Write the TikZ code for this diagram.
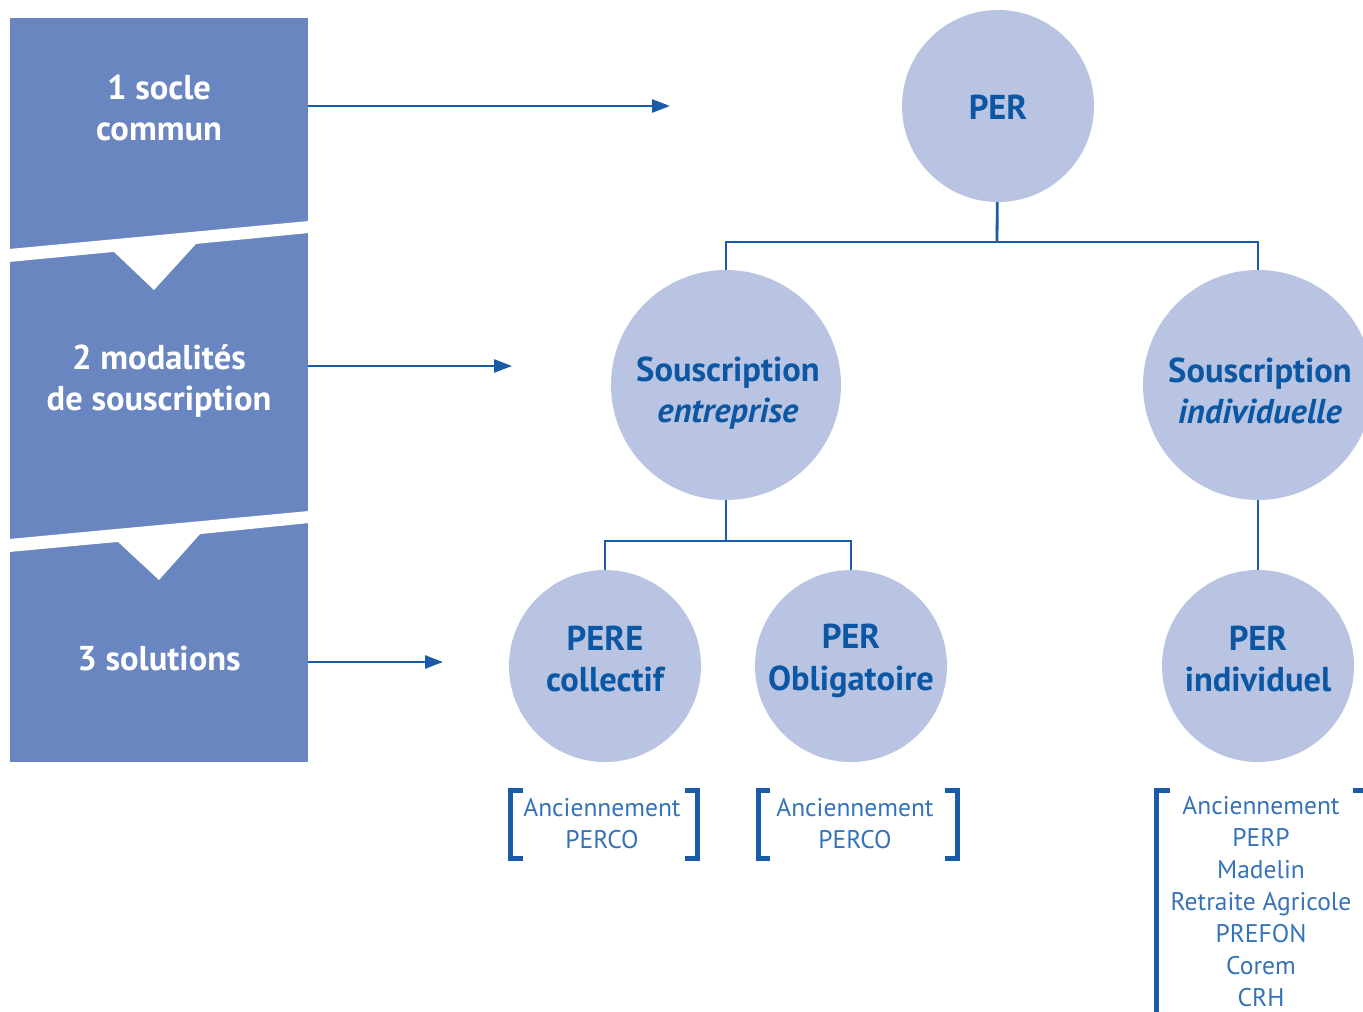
\documentclass[tikz,border=0pt]{standalone}
\usepackage{fontspec}
\setmainfont{PT Sans}
\usetikzlibrary{arrows.meta}
\definecolor{panel}{HTML}{6A86C0}
\definecolor{disc}{HTML}{B8C4E2}
\definecolor{navy}{HTML}{0B57A4}
\definecolor{lineblue}{HTML}{1A5BA8}
\definecolor{notecol}{HTML}{3572B8}
\tikzset{
  stage/.style={text=white, font=\bfseries\fontsize{34.5}{41}\selectfont, align=center},
  bubble/.style={circle, fill=disc, minimum size=#1, inner sep=0pt},
  bubtext/.style={text=navy, font=\bfseries\fontsize{34.5}{41.5}\selectfont, align=center, inner sep=0pt},
  link/.style={draw=lineblue, line width=2.8pt},
  pointer/.style={draw=lineblue, line width=2.6pt, -{Triangle[length=18pt,width=13pt]}},
  note/.style={text=notecol, font=\fontsize{25.5}{32}\selectfont, align=center},
  brk/.style={draw=lineblue, line width=5pt, line join=miter},
}
\begin{document}
\begin{tikzpicture}[x=1pt, y=-1pt]
\useasboundingbox (0,0) rectangle (1363,1012);

% left column of stages
\fill[panel] (10,18) rectangle (308,762);
\fill[white] (9,249) -- (309,221) -- (309,233) -- (196,243.9) -- (154,290)
  -- (114,251.9) -- (9,262) -- cycle;
\fill[white] (9,539) -- (309,511) -- (309,523) -- (200,534.1) -- (159,580)
  -- (118,541.9) -- (9,552) -- cycle;
\node[stage] (s1) at (159,108) {1 socle\\commun};
\node[stage] (s2) at (159,381.5) {2 modalités\\de souscription};
\node[stage] (s3) at (159,658) {3 solutions};

% arrow targets
\coordinate (t1) at (670,106);
\coordinate (t2) at (512,366);
\coordinate (t3) at (443,662);
\draw[pointer] (308,106) -- (t1);
\draw[pointer] (308,366) -- (t2);
\draw[pointer] (308,662) -- (t3);

% tree of plans
\node[bubble=192] (per) at (998,106) {};
\node[bubble=230] (se) at (726,385) {};
\node[bubble=230] (si) at (1258,385) {};
\node[bubble=192] (pc) at (605,666) {};
\node[bubble=192] (po) at (851,666) {};
\node[bubble=192] (pi) at (1258,666) {};

\node[bubtext] (per-t) at (998,107) {PER};
\node[bubtext] (se-t) at (728,393) {Souscription\\\textit{entreprise}};
\node[bubtext] (si-t) at (1260,391) {Souscription\\\textit{individuelle}};
\node[bubtext] (pc-t) at (605,659) {PERE\\collectif};
\node[bubtext] (po-t) at (851,661) {PER\\Obligatoire};
\node[bubtext] (pi-t) at (1258,659) {PER\\individuel};

\coordinate (hub1) at (997,242);
\coordinate (hub2) at (726,541);
\draw[link] (per) -- (hub1);
\draw[link] (se.north) |- (hub1) -| (si.north);
\draw[link] (se) -- (hub2);
\draw[link] (pc.north) |- (hub2) -| (po.north);
\draw[link] (si) -- (pi);

% former products
\node[note] (n1) at (602,824) {Anciennement\\PERCO};
\node[note] (n2) at (855,824) {Anciennement\\PERCO};
\node[note] (n3) at (1261,902) {Anciennement\\PERP\\Madelin\\Retraite Agricole\\PREFON\\Corem\\CRH};

\draw[brk] (523,790) -- (510,790) -- (510,858) -- (523,858);
\draw[brk] (685,790) -- (697,790) -- (697,858) -- (685,858);
\draw[brk] (770,790) -- (758,790) -- (758,858) -- (770,858);
\draw[brk] (945,790) -- (957,790) -- (957,858) -- (945,858);
\draw[brk] (1170,790) -- (1156,790) -- (1156,1020);
\draw[brk] (1353,790) -- (1368,790) -- (1368,1020);
\end{tikzpicture}
\end{document}
